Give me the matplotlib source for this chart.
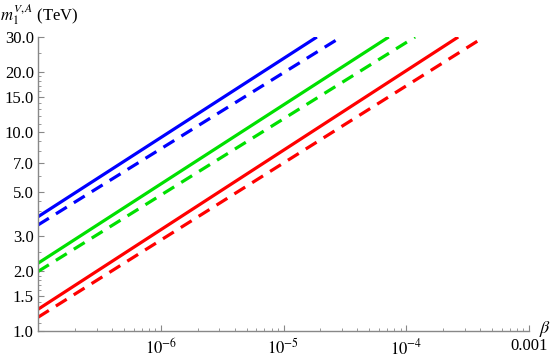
import matplotlib
matplotlib.use('Agg')
import matplotlib.pyplot as plt
from matplotlib.ticker import FixedLocator, FixedFormatter, LogLocator, NullFormatter

# each line: (beta at start, m at start), (beta at end, m at end)
names = ['blue solid', 'blue dashed', 'green solid', 'green dashed', 'red solid', 'red dashed']
colors = ['#0000ff', '#0000ff', '#00e000', '#00e000', '#ff0000', '#ff0000']
styles = ['-', '--', '-', '--', '-', '--']
beta_start = [1e-7, 1e-7, 1e-7, 1e-7, 1e-7, 1e-7]
m_start = [3.75, 3.41, 2.19, 1.99, 1.285, 1.172]
beta_end = [1.87e-5, 2.95e-5, 7.2e-5, 1.18e-4, 2.65e-4, 4.3e-4]
m_end = [30.0, 30.0, 30.0, 30.0, 30.0, 30.0]

yticks = [1.0, 1.5, 2.0, 3.0, 5.0, 7.0, 10.0, 15.0, 20.0, 30.0]
ytick_labels = ['1.0', '1.5', '2.0', '3.0', '5.0', '7.0', '10.0', '15.0', '20.0', '30.0']
xticks = [1e-6, 1e-5, 1e-4, 1e-3]
xtick_labels = [r'$10^{-6}$', r'$10^{-5}$', r'$10^{-4}$', '0.001']

plt.rcParams['font.family'] = ['Liberation Serif', 'DejaVu Serif']
plt.rcParams['mathtext.fontset'] = 'stix'

fig = plt.figure(figsize=(5.54, 3.58), dpi=100)
ax = fig.add_axes([38 / 554, 27 / 358, (529 - 38) / 554, (331 - 37) / 358])

for i in range(len(names)):
    ax.plot([beta_start[i], beta_end[i]], [m_start[i], m_end[i]], color=colors[i],
            linestyle=styles[i], linewidth=2.3, dashes=(4, 2.6) if styles[i] == '--' else (None, None),
            solid_capstyle='butt', dash_capstyle='butt')

ax.set_xscale('log')
ax.set_yscale('log')
ax.set_xlim(1e-7, 1e-3)
ax.set_ylim(1.0, 30.0)

ax.yaxis.set_major_locator(FixedLocator(yticks))
ax.yaxis.set_major_formatter(FixedFormatter(ytick_labels))
ax.yaxis.set_minor_locator(LogLocator(base=10, subs=[1.1, 1.2, 1.3, 1.4, 1.6, 1.7, 1.8, 1.9, 2.5, 3.5, 4, 4.5, 6, 8, 9], numticks=20))
ax.yaxis.set_minor_formatter(NullFormatter())
ax.xaxis.set_major_locator(FixedLocator(xticks))
ax.xaxis.set_major_formatter(FixedFormatter(xtick_labels))
ax.xaxis.set_minor_locator(LogLocator(base=10, subs=range(2, 10), numticks=20))
ax.xaxis.set_minor_formatter(NullFormatter())

for s in ['top', 'right']:
    ax.spines[s].set_visible(False)
for s in ['left', 'bottom']:
    ax.spines[s].set_color('#888888')
    ax.spines[s].set_linewidth(1.0)

ax.tick_params(which='major', direction='in', length=4, width=0.8, color='#888888',
               labelsize=12, labelcolor='black')
ax.tick_params(which='minor', direction='in', length=2, width=0.6, color='#888888')
ax.tick_params(axis='y', pad=3)
ax.tick_params(axis='x', pad=5)

fig.text(0 / 554, 1 - 15 / 358, r'$m_1^{V,A}$ (TeV)', fontsize=12, va='center', ha='left')
fig.text(545 / 554, 1 - 329 / 358, r'$\beta$', fontsize=13, va='center', ha='center')

fig.savefig('out.png', dpi=100)
